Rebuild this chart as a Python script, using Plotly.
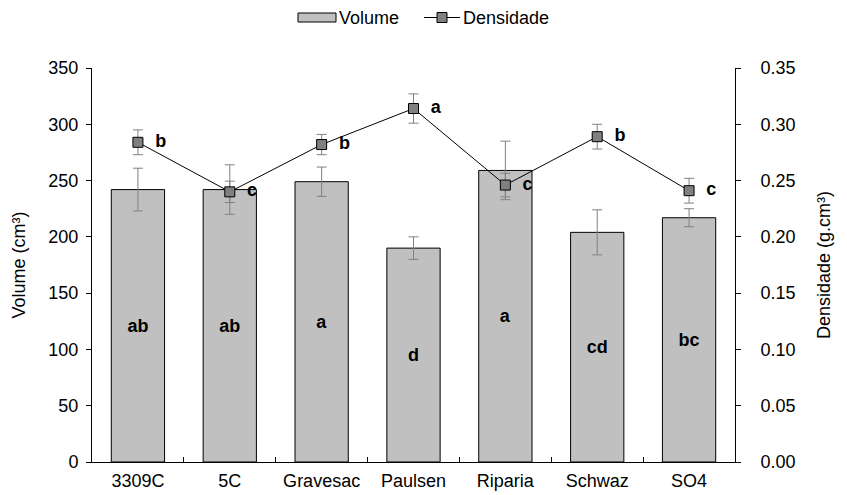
import plotly.graph_objects as go

categories = ["3309C", "5C", "Gravesac", "Paulsen", "Riparia", "Schwaz", "SO4"]
volume = [242, 242, 249, 190, 259, 204, 217]
volume_err = [19, 22, 13, 10, 26, 20, 8]
volume_letters = ["ab", "ab", "a", "d", "a", "cd", "bc"]
density = [0.284, 0.240, 0.282, 0.314, 0.246, 0.289, 0.241]
density_err = [0.011, 0.0095, 0.009, 0.013, 0.0105, 0.011, 0.011]
density_letters = ["b", "c", "b", "a", "c", "b", "c"]

FONT = "Liberation Sans, Arial, sans-serif"
FS = 18
W, H = 847, 495
L, R, T, B = 92, 112, 68, 33


def px(x):
    return (x - L) / (W - L - R)


def py(y):
    return (H - B - y) / (H - T - B)


fig = go.Figure()
fig.add_trace(go.Bar(
    x=categories, y=volume, name="Volume",
    marker=dict(color="#c0c0c0", line=dict(color="black", width=1)),
    width=0.58,
    error_y=dict(type="data", array=volume_err, color="#808080", thickness=1, width=5),
    text=volume_letters, textposition="inside", insidetextanchor="middle",
    textfont=dict(family=FONT, size=FS, color="black", weight="bold"),
    textangle=0, constraintext="none",
))
fig.add_trace(go.Scatter(
    x=categories, y=density, name="Densidade", yaxis="y2",
    mode="lines+markers+text",
    line=dict(color="black", width=1),
    marker=dict(symbol="square", size=10, color="#808080", line=dict(color="black", width=1)),
    error_y=dict(type="data", array=density_err, color="#808080", thickness=1, width=5),
    text=["  " + t for t in density_letters], textposition="middle right",
    textfont=dict(family=FONT, size=FS, color="black", weight="bold"),
))

# custom legend (Excel style)
shapes = [
    dict(type="rect", xref="paper", yref="paper", x0=px(298), x1=px(336), y0=py(22), y1=py(13),
         fillcolor="#c0c0c0", line=dict(color="black", width=1)),
    dict(type="line", xref="paper", yref="paper", x0=px(424), x1=px(460), y0=py(17.5), y1=py(17.5),
         line=dict(color="black", width=1)),
    dict(type="rect", xref="paper", yref="paper", x0=px(437), x1=px(447), y0=py(22.5), y1=py(12.5),
         fillcolor="#808080", line=dict(color="black", width=1)),
]
annotations = [
    dict(text="Volume", xref="paper", yref="paper", x=px(337), y=py(18), xanchor="left",
         yanchor="middle", showarrow=False, font=dict(family=FONT, size=FS, color="black")),
    dict(text="Densidade", xref="paper", yref="paper", x=px(461), y=py(18), xanchor="left",
         yanchor="middle", showarrow=False, font=dict(family=FONT, size=FS, color="black")),
]

fig.update_layout(
    width=W, height=H,
    margin=dict(l=L, r=R, t=T, b=B, autoexpand=False),
    plot_bgcolor="white", paper_bgcolor="white",
    font=dict(family=FONT, size=FS, color="black"),
    showlegend=False,
    shapes=shapes, annotations=annotations,
    xaxis=dict(showline=True, linecolor="black", linewidth=1, ticks="inside",
               tickson="boundaries", ticklen=5, tickcolor="black", showgrid=False,
               tickfont=dict(size=FS), automargin=False, ticklabelstandoff=2),
    yaxis=dict(title=dict(text="Volume (cm³)", font=dict(size=FS), standoff=18),
               range=[0, 350], dtick=50, showline=True, linecolor="black", linewidth=1,
               ticks="outside", ticklen=5, tickcolor="black", showgrid=False,
               zeroline=False, tickfont=dict(size=FS), automargin=False,
               ticklabelstandoff=4),
    yaxis2=dict(title=dict(text="Densidade (g.cm³)", font=dict(size=FS), standoff=22),
                range=[0, 0.35], dtick=0.05, tickformat=".2f", overlaying="y", side="right",
                showline=True, linecolor="black", linewidth=1, ticks="outside", ticklen=5,
                tickcolor="black", showgrid=False, zeroline=False, tickfont=dict(size=FS),
                automargin=False, ticklabelstandoff=16),
)

fig.write_html("out.html")
